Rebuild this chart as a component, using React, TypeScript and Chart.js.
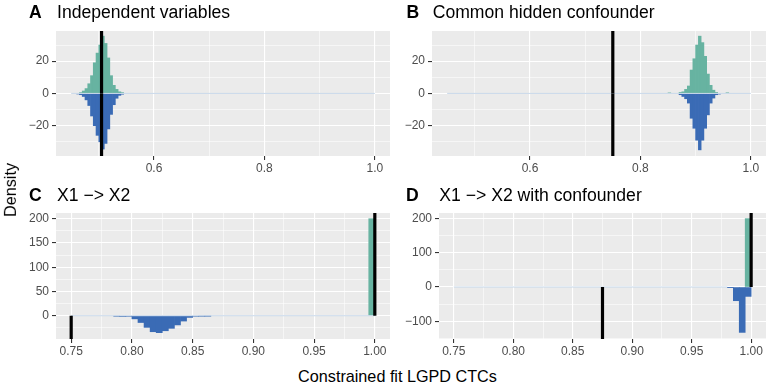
import React, { useEffect, useRef } from "react";
import { Chart, registerables } from "chart.js";

Chart.register(...registerables);
Chart.defaults.font.family = '"Liberation Sans", Arial, Helvetica, sans-serif';

// ---------------- data ----------------
// Panel A: Independent variables (bin centres, binwidth 0.005)
const aGreenBins = [0.4675, 0.4725, 0.4775, 0.4825, 0.4875, 0.4925, 0.4975, 0.5025, 0.5075, 0.5125, 0.5175, 0.5225, 0.5275, 0.5325, 0.5375, 0.5425];
const aGreenDensity = [0.5, 1.5, 3, 6, 11, 19, 25, 30, 35.5, 31, 22, 11, 5, 2.5, 1, 0.5];
const aBlueBins = [0.4625, 0.4675, 0.4725, 0.4775, 0.4825, 0.4875, 0.4925, 0.4975, 0.5025, 0.5075, 0.5125, 0.5175, 0.5225, 0.5275, 0.5325, 0.5375, 0.5425];
const aBlueDensity = [-0.3, -0.8, -1.9, -4, -7.5, -14, -20, -26, -30, -34.5, -31, -22, -13, -7, -3, -1.2, -0.5];

// Panel B: Common hidden confounder
const bGreenBins = [0.8525, 0.8725, 0.8775, 0.8825, 0.8875, 0.8925, 0.8975, 0.9025, 0.9075, 0.9125, 0.9175, 0.9225, 0.9275, 0.9325, 0.9375, 0.9575];
const bGreenDensity = [0.3, 0.6, 1, 2.5, 4.6, 14.5, 21.5, 30, 35.5, 31.5, 23, 12, 5, 2, 0.6, 0.4];
const bBlueBins = [0.8725, 0.8775, 0.8825, 0.8875, 0.8925, 0.8975, 0.9025, 0.9075, 0.9125, 0.9175, 0.9225, 0.9275, 0.9325, 0.9375, 0.9425];
const bBlueDensity = [-0.8, -1.9, -3.3, -6, -15.4, -21.6, -29, -35, -29, -21.6, -13.3, -6, -2.9, -0.8, -0.4];

// Panel C: X1 -> X2
const cGreenBins = [0.9975];
const cGreenDensity = [200];
const cBlueBins = [0.7875, 0.7925, 0.7975, 0.8025, 0.8075, 0.8125, 0.8175, 0.8225, 0.8275, 0.8325, 0.8375, 0.8425, 0.8475, 0.8525, 0.8575, 0.8625];
const cBlueDensity = [-0.8, -1.5, -1.2, -6.5, -14, -24, -33, -35, -31, -26, -19, -11, -3.5, -1, -0.5, -0.3];

// Panel D: X1 -> X2 with confounder
const dGreenBins = [0.9975];
const dGreenDensity = [200];
const dBlueBins = [0.9825, 0.9875, 0.9925, 0.9975];
const dBlueDensity = [-0.8, -40, -132.7, -27.4];

// true values (vertical black lines), upper / lower half, per panel A..D
const truthUpper = [0.505, 0.75, 1.0, 1.0];
const truthLower = [0.505, 0.75, 0.75, 0.875];
// support of the histograms (thin zero line)
const supportStart = [0.45, 0.45, 0.75, 0.75];
const supportEnd = [1.0, 1.0, 1.0, 0.98];

const panelLetters = ["A", "B", "C", "D"];
const panelTitles = ["Independent variables", "Common hidden confounder", "X1 \u2212> X2", "X1 \u2212> X2 with confounder"];

// axes
const topXLimits = [0.4225, 1.0275];
const bottomXLimits = [0.7375, 1.0125];
const topXMajor = [0.6, 0.8, 1.0];
const topXMinor = [0.5, 0.7, 0.9];
const bottomXMajor = [0.75, 0.8, 0.85, 0.9, 0.95, 1.0];
const bottomXMinor = [0.775, 0.825, 0.875, 0.925, 0.975];
const abYLimits = [-38.8, 38.7];
const cYLimits = [-48, 211.8];
const dYLimits = [-152, 216.5];
const abYMajor = [-20, 0, 20];
const abYMinor = [-30, -10, 10, 30];
const cYMajor = [0, 50, 100, 150, 200];
const cYMinor = [-25, 25, 75, 125, 175];
const dYMajor = [-100, 0, 100, 200];
const dYMinor = [-150, -50, 50, 150];

const xAxisTitle = "Constrained fit LGPD CTCs";
const yAxisTitle = "Density";

// ---------------- styles ----------------
const GREEN = "#67B3A1";
const BLUE = "#3A6BB5";
const ZERO = "#C8D8E9";
const PANEL_BG = "#EBEBEB";
const TICK_TEXT = "#4D4D4D";

const panelBg = {
  id: "panelBg",
  beforeDraw(chart: any) {
    const { ctx, chartArea: a } = chart;
    ctx.save();
    ctx.fillStyle = PANEL_BG;
    ctx.fillRect(a.left, a.top, a.right - a.left, a.bottom - a.top);
    ctx.restore();
  },
};

type PanelProps = {
  idx: number;
  left: number;
  top: number;
  width: number;
  height: number;
  yWidth: number;
  xHeight: number;
  padRight: number;
  greenBins: number[];
  greenDensity: number[];
  blueBins: number[];
  blueDensity: number[];
  xLim: number[];
  yLim: number[];
  xMajor: number[];
  xMinor: number[];
  yMajor: number[];
  yMinor: number[];
  xDecimals: number;
};

const near = (arr: number[], v: number) => arr.some((m) => Math.abs(m - v) < 1e-9);
const fmtY = (v: number) => (v < 0 ? "\u2212" + Math.abs(v) : String(v));

function Panel(p: PanelProps) {
  const ref = useRef<HTMLCanvasElement | null>(null);
  useEffect(() => {
    const canvas = ref.current;
    if (!canvas) return;
    const xTicks = [...p.xMajor, ...p.xMinor].sort((a, b) => a - b);
    const yTicks = [...p.yMajor, ...p.yMinor].sort((a, b) => a - b);
    const barCommon = {
      type: "bar" as const,
      grouped: false,
      barPercentage: 1,
      categoryPercentage: 1,
      borderWidth: 0,
    };
    const gridFor = (major: number[]) => ({
      color: "#FFFFFF",
      lineWidth: (ctx: any) => (ctx.tick && near(major, ctx.tick.value) ? 1.1 : 0.55),
      tickColor: (ctx: any) => (ctx.tick && near(major, ctx.tick.value) ? "#333333" : "rgba(0,0,0,0)"),
      tickLength: 4,
      tickWidth: 1.1,
      drawTicks: true,
      offset: false,
    });
    const chart = new Chart(canvas, {
      type: "bar",
      data: {
        datasets: [
          {
            ...barCommon,
            data: p.greenBins.map((x, i) => ({ x, y: p.greenDensity[i] })),
            backgroundColor: GREEN,
            order: 4,
          },
          {
            ...barCommon,
            data: p.blueBins.map((x, i) => ({ x, y: p.blueDensity[i] })),
            backgroundColor: BLUE,
            order: 3,
          },
          {
            type: "line",
            data: [
              { x: supportStart[p.idx], y: 0 },
              { x: supportEnd[p.idx], y: 0 },
            ],
            borderColor: ZERO,
            borderWidth: 1,
            pointRadius: 0,
            order: 2,
          },
          {
            type: "line",
            data: [
              { x: truthUpper[p.idx], y: 0 },
              { x: truthUpper[p.idx], y: p.yLim[1] },
            ],
            borderColor: "#000000",
            borderWidth: 3.2,
            pointRadius: 0,
            order: 1,
          },
          {
            type: "line",
            data: [
              { x: truthLower[p.idx], y: p.yLim[0] },
              { x: truthLower[p.idx], y: 0 },
            ],
            borderColor: "#000000",
            borderWidth: 3.2,
            pointRadius: 0,
            order: 1,
          },
        ] as any,
      },
      options: {
        animation: false,
        responsive: false,
        maintainAspectRatio: false,
        events: [],
        layout: { padding: { top: 12, right: p.padRight, bottom: 0, left: 0 } },
        plugins: {
          legend: { display: false },
          tooltip: { enabled: false },
          title: { display: false },
        },
        scales: {
          x: {
            type: "linear",
            min: p.xLim[0],
            max: p.xLim[1],
            offset: false,
            bounds: "data",
            border: { display: false },
            grid: gridFor(p.xMajor) as any,
            afterBuildTicks: (s: any) => {
              s.ticks = xTicks.map((v) => ({ value: v }));
            },
            afterFit: (s: any) => {
              s.height = p.xHeight;
            },
            ticks: {
              autoSkip: false,
              maxRotation: 0,
              minRotation: 0,
              padding: 1,
              color: TICK_TEXT,
              font: { size: 12 },
              callback: (v: any) => (near(p.xMajor, Number(v)) ? Number(v).toFixed(p.xDecimals) : ""),
            },
          },
          y: {
            type: "linear",
            min: p.yLim[0],
            max: p.yLim[1],
            bounds: "data",
            border: { display: false },
            grid: gridFor(p.yMajor) as any,
            afterBuildTicks: (s: any) => {
              s.ticks = yTicks.map((v) => ({ value: v }));
            },
            afterFit: (s: any) => {
              s.width = p.yWidth;
            },
            ticks: {
              autoSkip: false,
              padding: 3,
              color: TICK_TEXT,
              font: { size: 12 },
              callback: (v: any) => (near(p.yMajor, Number(v)) ? fmtY(Number(v)) : ""),
            },
          },
        },
      } as any,
      plugins: [panelBg],
    });
    return () => chart.destroy();
  }, []);
  return (
    <canvas
      ref={ref}
      width={p.width}
      height={p.height}
      style={{ position: "absolute", left: p.left, top: p.top, width: p.width, height: p.height }}
    />
  );
}

const FONT = '"Liberation Sans", Arial, Helvetica, sans-serif';
const TITLE_SIZE = 17.6;
const AXIS_SIZE = 16.2;
const BASE = 0.8465; // baseline offset (em) for line-height 1

function Title({ idx, letterX, textX, baseline }: { idx: number; letterX: number; textX: number; baseline: number }) {
  const top = baseline - BASE * TITLE_SIZE;
  const common: React.CSSProperties = {
    position: "absolute",
    top,
    fontSize: TITLE_SIZE,
    lineHeight: 1,
    fontFamily: FONT,
    color: "#000",
    whiteSpace: "nowrap",
  };
  return (
    <>
      <div style={{ ...common, left: letterX, fontWeight: "bold" }}>{panelLetters[idx]}</div>
      <div style={{ ...common, left: textX }}>{panelTitles[idx]}</div>
    </>
  );
}

export default function App() {
  return (
    <div
      style={{
        position: "absolute",
        left: 0,
        top: 0,
        width: 772,
        height: 386,
        background: "#FFFFFF",
        overflow: "hidden",
        fontFamily: FONT,
      }}
    >
      <Panel
        idx={0}
        left={0}
        top={19}
        width={392}
        height={159}
        yWidth={56}
        xHeight={22}
        padRight={2}
        greenBins={aGreenBins}
        greenDensity={aGreenDensity}
        blueBins={aBlueBins}
        blueDensity={aBlueDensity}
        xLim={topXLimits}
        yLim={abYLimits}
        xMajor={topXMajor}
        xMinor={topXMinor}
        yMajor={abYMajor}
        yMinor={abYMinor}
        xDecimals={1}
      />
      <Panel
        idx={1}
        left={392}
        top={19}
        width={378}
        height={159}
        yWidth={40}
        xHeight={22}
        padRight={4}
        greenBins={bGreenBins}
        greenDensity={bGreenDensity}
        blueBins={bBlueBins}
        blueDensity={bBlueDensity}
        xLim={topXLimits}
        yLim={abYLimits}
        xMajor={topXMajor}
        xMinor={topXMinor}
        yMajor={abYMajor}
        yMinor={abYMinor}
        xDecimals={1}
      />
      <Panel
        idx={2}
        left={0}
        top={201}
        width={392}
        height={162}
        yWidth={56}
        xHeight={24}
        padRight={2}
        greenBins={cGreenBins}
        greenDensity={cGreenDensity}
        blueBins={cBlueBins}
        blueDensity={cBlueDensity}
        xLim={bottomXLimits}
        yLim={cYLimits}
        xMajor={bottomXMajor}
        xMinor={bottomXMinor}
        yMajor={cYMajor}
        yMinor={cYMinor}
        xDecimals={2}
      />
      <Panel
        idx={3}
        left={392}
        top={201}
        width={378}
        height={162}
        yWidth={47}
        xHeight={24}
        padRight={4}
        greenBins={dGreenBins}
        greenDensity={dGreenDensity}
        blueBins={dBlueBins}
        blueDensity={dBlueDensity}
        xLim={bottomXLimits}
        yLim={dYLimits}
        xMajor={bottomXMajor}
        xMinor={bottomXMinor}
        yMajor={dYMajor}
        yMinor={dYMinor}
        xDecimals={2}
      />
      <Title idx={0} letterX={29} textX={57} baseline={19.3} />
      <Title idx={1} letterX={406.5} textX={432.7} baseline={19.3} />
      <Title idx={2} letterX={29} textX={57} baseline={202} />
      <Title idx={3} letterX={406} textX={439.3} baseline={202} />
      <div
        style={{
          position: "absolute",
          left: 397.5,
          top: 381.5 - BASE * AXIS_SIZE,
          transform: "translateX(-50%)",
          fontSize: AXIS_SIZE,
          lineHeight: 1,
          color: "#000",
          whiteSpace: "nowrap",
        }}
      >
        {xAxisTitle}
      </div>
      <div
        style={{
          position: "absolute",
          left: 0,
          top: 0,
          transformOrigin: "0 0",
          transform: "translate(10px, 190px) rotate(-90deg) translate(-50%, -50%)",
          fontSize: AXIS_SIZE,
          lineHeight: 1,
          color: "#000",
          whiteSpace: "nowrap",
        }}
      >
        {yAxisTitle}
      </div>
    </div>
  );
}
